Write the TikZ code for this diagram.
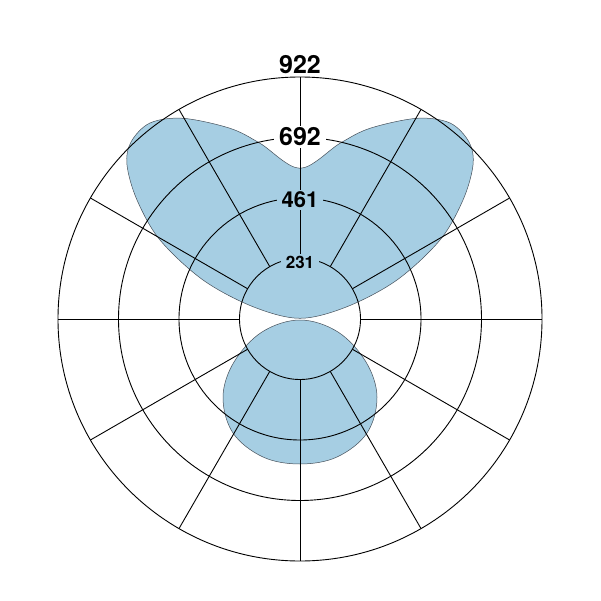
\documentclass[tikz,border=0pt]{standalone}
\usepackage{fontspec}
\setmainfont{TeX Gyre Heros}
\usetikzlibrary{calc}
\begin{document}
\begin{tikzpicture}[x=1pt,y=-1pt,
  lobe/.style={fill={rgb,255:red,166;green,206;blue,227},draw={rgb,255:red,70;green,80;blue,90},line width=0.5pt},
  grid/.style={draw=black,line width=0.9pt},
  lab/.style={font=\bfseries,inner xsep=5pt,inner ysep=2pt}]
\definecolor{lb}{RGB}{166,206,227}
\useasboundingbox (0,0) rectangle (601,601);
\coordinate (c) at (300,319);
\draw[lobe] plot[smooth cycle,tension=0.55] coordinates {
 (300,168.3) (260,143.3) (230,128.3) (183,118.3) (150,123) (131,142) (127,165) (137,200) (160,240) (203,280) (253,306.7) (300,318.3)
 (347,306.7) (397,280) (440,240) (463,200) (473,165) (469,142) (450,123) (417,118.3) (370,128.3) (340,143.3)};
\draw[lobe] plot[smooth cycle,tension=0.6] coordinates {
 (300,320) (262,332) (234,362) (223,397) (233,433) (263,457) (300,464) (337,457) (367,433) (377,397) (366,362) (338,332)};
\foreach \r in {60.5,121,181.5,242} \draw[grid] (c) circle[radius=\r];
\foreach \a in {0,30,...,330} \draw[grid] ($(c)+(\a:60.5)$) -- ($(c)+(\a:242)$);
\node[lab,fill=white,font=\bfseries\fontsize{25}{27}\selectfont] (l922) at (300,65) {922};
\node[lab,fill=white,font=\bfseries\fontsize{25}{27}\selectfont] (l692) at (300,137) {692};
\node[lab,fill=lb,font=\bfseries\fontsize{22}{24}\selectfont] (l461) at (300,200) {461};
\node[lab,fill=lb,font=\bfseries\fontsize{17}{19}\selectfont] (l231) at (300,262) {231};
\end{tikzpicture}
\end{document}
